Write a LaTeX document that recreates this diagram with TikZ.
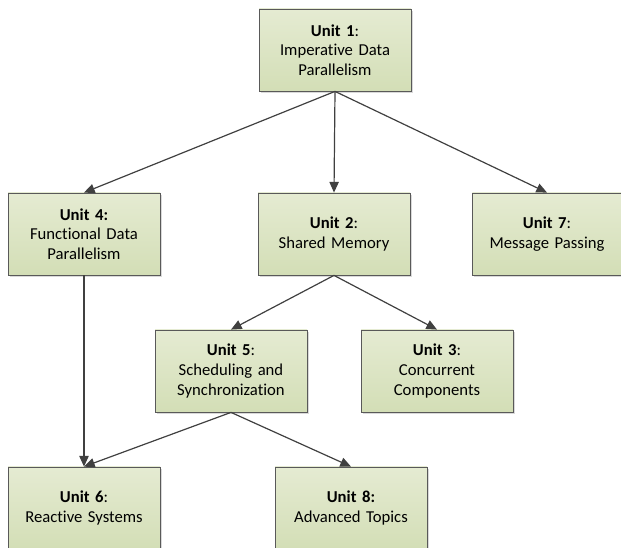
\documentclass[tikz,border=0pt]{standalone}
\usepackage{fontspec}
\setmainfont{Carlito}[Ligatures=NoCommon]
\usepackage{tikz}
\usetikzlibrary{arrows.meta,shadows}
\definecolor{unittop}{RGB}{229,235,210}
\definecolor{unitbot}{RGB}{211,222,182}
\definecolor{edgegray}{RGB}{64,64,64}
\tikzstyle{unit} = [rectangle, draw=black!65, line width=0.6pt, top color=unittop, bottom color=unitbot,
    text width=108pt, align=center, minimum width=114pt, minimum height=61.5pt, inner sep=2pt,
    font=\fontsize{12.5}{14.8}\selectfont,
    drop shadow={shadow xshift=1.5pt, shadow yshift=-1.5pt, opacity=0.25, fill=black!60}]
\tikzstyle{line} = [draw=edgegray, line width=0.9pt, -{Triangle[length=8pt,width=7pt]}]

\begin{document}
\begin{tikzpicture}[x=0.75pt, y=-0.75pt]
    \useasboundingbox (0,0) rectangle (621,548);
    % Place nodes
    \node [unit] (u1) at (335,50) {\textbf{Unit 1}:\\Imperative Data\\Parallelism};
    \node [unit] (u4) at (84,234) {\textbf{Unit 4:}\\Functional Data\\Parallelism};
    \node [unit] (u2) at (334,234) {\textbf{Unit 2}:\\Shared Memory};
    \node [unit, minimum width=110pt] (u7) at (547,234) {\textbf{Unit 7}:\\Message Passing};
    \node [unit] (u5) at (231,371) {\textbf{Unit 5}:\\Scheduling and\\Synchronization};
    \node [unit] (u3) at (437,371) {\textbf{Unit 3}:\\Concurrent\\Components};
    \node [unit] (u6) at (84,508) {\textbf{Unit 6}:\\Reactive Systems};
    \node [unit] (u8) at (351,508) {\textbf{Unit 8:}\\Advanced Topics};
    % Draw edges
    \path [line] (u1.south) -- (u4.north);
    \path [line] (u1.south) -- (u2.north);
    \path [line] (u1.south) -- (u7.north);
    \path [line] (u4.south) -- (u6.north);
    \path [line] (u2.south) -- (u5.north);
    \path [line] (u2.south) -- (u3.north);
    \path [line] (u5.south) -- (u6.north);
    \path [line] (u5.south) -- (u8.north);
\end{tikzpicture}
\end{document}
